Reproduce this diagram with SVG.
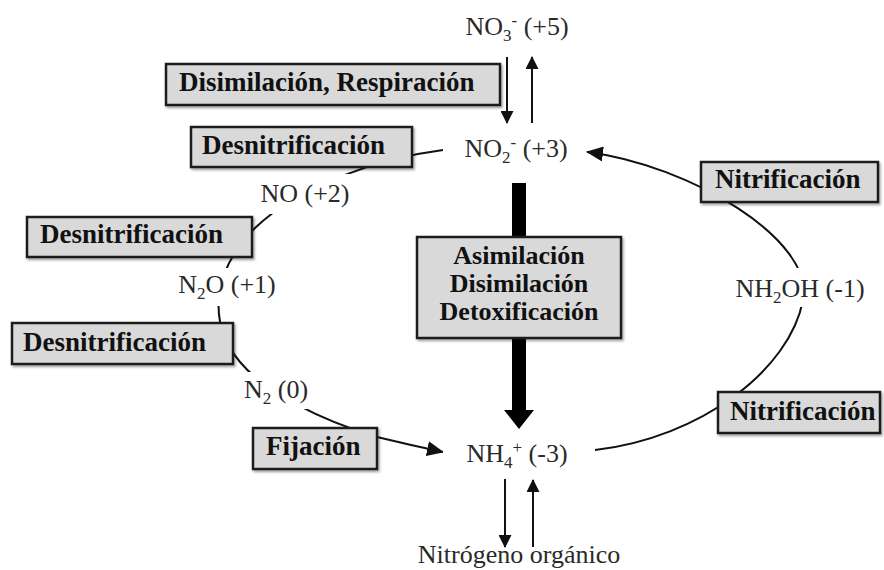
<svg xmlns="http://www.w3.org/2000/svg" width="884" height="570" viewBox="0 0 884 570">
<defs>
<style>
.lbl{font-family:"Liberation Serif","Times New Roman",serif;font-size:27px;font-weight:bold;fill:#111}
.sp{font-family:"Liberation Serif","Times New Roman",serif;font-size:26px;fill:#2a2a2a;text-anchor:middle}
.box{fill:#d9d9d9;stroke:#1c1c1c;stroke-width:2.5;filter:url(#sh)}
.bg{fill:#fff}
.ln{fill:none;stroke:#111;stroke-width:2}
.sub{font-size:17px}
.mid{font-size:26px;text-anchor:middle}
</style>
<filter id="sh" x="-10%" y="-20%" width="125%" height="150%">
<feDropShadow dx="1.5" dy="2" stdDeviation="1.2" flood-color="#000" flood-opacity="0.35"/>
</filter>
<marker id="ah" markerWidth="13" markerHeight="13" refX="12" refY="6.5" orient="auto" markerUnits="userSpaceOnUse">
<path d="M0,0 L13,6.5 L0,13 z" fill="#111"/>
</marker>
<marker id="ahl" markerWidth="17" markerHeight="15" refX="16" refY="7.5" orient="auto" markerUnits="userSpaceOnUse">
<path d="M0,0 L17,7.5 L0,15 z" fill="#111"/>
</marker>
</defs>
<rect width="884" height="570" fill="#fff"/>

<g id="connectors">
<path class="ln" d="M507,57 L507,123" marker-end="url(#ah)"/>
<path class="ln" d="M532,123 L532,57" marker-end="url(#ah)"/>
<path class="ln" d="M505,479 L505,547" marker-end="url(#ah)"/>
<path class="ln" d="M533,547 L533,480" marker-end="url(#ah)"/>
<path class="ln" d="M443,150 C380,158 300,185 255,228 C215,268 205,320 240,362 C265,392 320,420 377,437 Q410,445 443,452" marker-end="url(#ahl)"/>
<path class="ln" d="M595,450 C700,438 790,370 803,300 C815,240 690,165 587,152" marker-end="url(#ahl)"/>
<path d="M512,183 L526,183 L526,410 L534,410 L519,429 L504,410 L512,410 z" fill="#000"/>
</g>

<g id="no3">
<text class="sp" x="517" y="35">NO<tspan class="sub" dy="6">3</tspan><tspan class="sub" dy="-15">-</tspan><tspan dy="9"> (+5)</tspan></text>
</g>
<g id="no2">
<rect class="bg" x="443" y="128" width="129" height="42"/>
<text class="sp" x="516" y="157">NO<tspan class="sub" dy="6">2</tspan><tspan class="sub" dy="-15">-</tspan><tspan dy="9"> (+3)</tspan></text>
</g>
<g id="no">
<rect class="bg" x="230" y="174" width="140" height="40"/>
<text class="sp" x="305" y="202">NO (+2)</text>
</g>
<g id="n2o">
<rect class="bg" x="148" y="268" width="152" height="38"/>
<text class="sp" x="227" y="293">N<tspan class="sub" dy="6">2</tspan><tspan dy="-6">O (+1)</tspan></text>
</g>
<g id="n2">
<rect class="bg" x="238" y="372" width="92" height="37"/>
<text class="sp" x="276" y="398">N<tspan class="sub" dy="6">2</tspan><tspan dy="-6"> (0)</tspan></text>
</g>
<g id="nh4">
<rect class="bg" x="443" y="435" width="150" height="34"/>
<text class="sp" x="517" y="462">NH<tspan class="sub" dy="6">4</tspan><tspan class="sub" dy="-15">+</tspan><tspan dy="9"> (-3)</tspan></text>
</g>
<g id="nh2oh">
<rect class="bg" x="725" y="268" width="150" height="39"/>
<text class="sp" x="800" y="297">NH<tspan class="sub" dy="6">2</tspan><tspan dy="-6">OH (-1)</tspan></text>
</g>
<g id="org">
<text class="sp" x="519" y="563">Nitrógeno orgánico</text>
</g>

<g id="box-disimilacion">
<rect class="box" x="166" y="64" width="334" height="41"/>
<text class="lbl" x="179" y="91">Disimilación, Respiración</text>
</g>
<g id="box-desnit1">
<rect class="box" x="191" y="127" width="221" height="40"/>
<text class="lbl" x="202" y="154">Desnitrificación</text>
</g>
<g id="box-desnit2">
<rect class="box" x="27" y="217" width="225" height="40"/>
<text class="lbl" x="40" y="243">Desnitrificación</text>
</g>
<g id="box-desnit3">
<rect class="box" x="12" y="323" width="221" height="41"/>
<text class="lbl" x="23" y="351">Desnitrificación</text>
</g>
<g id="box-fijacion">
<rect class="box" x="253" y="428" width="124" height="41"/>
<text class="lbl" x="266" y="455">Fijación</text>
</g>
<g id="box-nitrif1">
<rect class="box" x="701" y="162" width="177" height="40"/>
<text class="lbl" x="715" y="188">Nitrificación</text>
</g>
<g id="box-nitrif2">
<rect class="box" x="718" y="392" width="162" height="41"/>
<text class="lbl" x="730" y="420">Nitrificación</text>
</g>
<g id="box-asimilacion">
<rect class="box" x="417" y="237" width="204" height="101"/>
<text class="lbl mid" x="519" y="264">Asimilación</text>
<text class="lbl mid" x="519" y="292">Disimilación</text>
<text class="lbl mid" x="519" y="320">Detoxificación</text>
</g>
</svg>
